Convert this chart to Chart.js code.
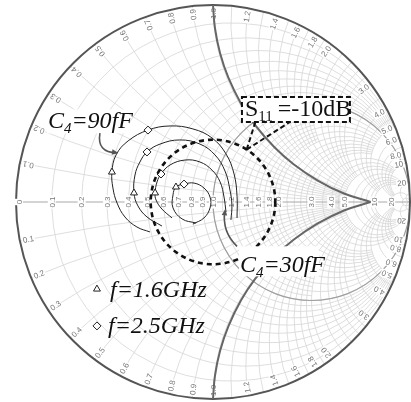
<!DOCTYPE html>
<html lang="en">
<head>
<meta charset="UTF-8">
<title>S11 of the input match for several C4</title>
<script src="https://cdn.jsdelivr.net/npm/chart.js"></script>
<style>
  html, body { margin: 0; padding: 0; background: #fff; }
  #wrap { width: 411px; height: 402px; }
</style>
</head>
<body>
<div id="wrap"><canvas id="smith" width="411" height="402"></canvas></div>
<script>
// S11 traces as reflection coefficient [re, im], low to high frequency
const trace90 = [[-0.320,-0.152],[-0.386,-0.127],[-0.447,-0.076],[-0.487,-0.005],[-0.508,0.071],
  [-0.513,0.152],[-0.492,0.239],[-0.431,0.310],[-0.330,0.365],[-0.218,0.386],[-0.102,0.371],
  [-0.005,0.325],[0.066,0.244],[0.107,0.142],[0.122,0.030],[0.122,-0.081]];
const trace70 = [[-0.259,-0.122],[-0.335,-0.076],[-0.381,-0.020],[-0.401,0.046],[-0.396,0.137],
  [-0.371,0.203],[-0.335,0.254],[-0.269,0.294],[-0.168,0.315],[-0.066,0.294],[0.010,0.239],
  [0.061,0.157],[0.086,0.061],[0.096,-0.015],[0.091,-0.091]];
const trace50 = [[-0.208,-0.081],[-0.259,-0.036],[-0.289,0.010],[-0.294,0.046],[-0.284,0.102],
  [-0.264,0.142],[-0.218,0.188],[-0.142,0.213],[-0.066,0.203],[-0.005,0.162],[0.036,0.102],
  [0.056,0.025],[0.066,-0.051]];
const trace30 = [[-0.086,-0.107],[-0.157,-0.086],[-0.203,-0.030],[-0.203,0.036],[-0.188,0.076],
  [-0.147,0.091],[-0.096,0.096],[-0.046,0.071],[-0.015,0.025],[-0.015,-0.030],[-0.046,-0.081],
  [-0.102,-0.112]];

// marker positions at 1.6 GHz and 2.5 GHz on each trace
const mark16 = [[-0.513,0.152],[-0.401,0.046],[-0.294,0.046],[-0.188,0.076]];
const mark25 = [[-0.330,0.365],[-0.335,0.254],[-0.264,0.142],[-0.147,0.091]];

// bounding arcs (dark gray)
const boundUpper = [[0,1.0],[0.010,0.882],[0.036,0.755],[0.078,0.631],[0.143,0.498],[0.214,0.390],
  [0.312,0.278],[0.409,0.192],[0.532,0.109],[0.665,0.043],[0.800,0]];
const boundLower = boundUpper.map(p => [p[0], -p[1]]);

// chart labels
const axisTicks = [0,0.1,0.2,0.3,0.4,0.5,0.6,0.7,0.8,0.9,1.0,1.2,1.4,1.6,1.8,2.0,3.0,4.0,5.0,10,20];
const rimTicks = [0.1,0.2,0.3,0.4,0.5,0.6,0.7,0.8,0.9,1.0,1.2,1.4,1.6,1.8,2.0,3.0,4.0,5.0,6.0,8.0,10,20];
const s11LimitDb = -10;

// grid: circles of constant r (clipped to |x| <= lim) and arcs of constant x (clipped to r <= lim)
const gridTiers = [
  { vals: [0.1,0.2,0.3,0.4,0.5,0.6,0.7,0.8,0.9,1.0], lim: 5 },
  { vals: [1.2,1.4,1.6,1.8,2.0], lim: 5 },
  { vals: [1.1,1.3,1.5,1.7,1.9], lim: 2 },
  { vals: [2.2,2.4,2.6,2.8,3.0], lim: 5 },
  { vals: [3.5,4.0,4.5,5.0], lim: 10 },
  { vals: [6,7,8,9,10], lim: 20 },
  { vals: [20], lim: 50 },
  { vals: [50], lim: 1e6 }
];

const toXY = arr => arr.map(p => ({ x: p[0], y: p[1] }));

function gam(r, x) {
  const d = (r + 1) * (r + 1) + x * x;
  return [(r * r + x * x - 1) / d, 2 * x / d];
}

function fmt(v) {
  if (v === 0) return '0';
  if (v >= 10) return String(v);
  return v.toFixed(1);
}

const smithGrid = {
  id: 'smithGrid',
  beforeDatasetsDraw(chart) {
    const ctx = chart.ctx;
    const X = chart.scales.x, Y = chart.scales.y;
    const cx = X.getPixelForValue(0), cy = Y.getPixelForValue(0);
    const R = X.getPixelForValue(1) - cx;

    ctx.save();
    ctx.beginPath();
    ctx.arc(cx, cy, R, 0, Math.PI * 2);
    ctx.clip();

    ctx.strokeStyle = '#d6d6d6';
    ctx.lineWidth = 0.8;
    gridTiers.forEach(t => {
      t.vals.forEach(v => {
        // constant resistance
        const c = v / (1 + v), rad = 1 / (1 + v);
        const p = gam(v, t.lim);
        const a = Math.atan2(p[1], p[0] - c);
        ctx.beginPath();
        ctx.arc(cx + c * R, cy, rad * R, -a, a, true);
        ctx.stroke();
        // constant reactance, both signs
        const p0 = gam(0, v), p1 = gam(t.lim, v);
        let a0 = Math.atan2(p0[1] - 1 / v, p0[0] - 1);
        let a1 = Math.atan2(p1[1] - 1 / v, p1[0] - 1);
        if (a1 < a0) a1 += Math.PI * 2;
        ctx.beginPath();
        ctx.arc(cx + R, cy - R / v, R / v, -a0, -a1, true);
        ctx.stroke();
        ctx.beginPath();
        ctx.arc(cx + R, cy + R / v, R / v, a0, a1, false);
        ctx.stroke();
      });
    });

    // r = 1 circle
    ctx.strokeStyle = '#a0a0a0';
    ctx.lineWidth = 1.2;
    ctx.beginPath();
    ctx.arc(cx + R / 2, cy, R / 2, 0, Math.PI * 2);
    ctx.stroke();

    // real axis
    ctx.strokeStyle = '#a8a8a8';
    ctx.lineWidth = 1;
    ctx.beginPath();
    ctx.moveTo(cx - R, cy);
    ctx.lineTo(cx + R, cy);
    ctx.stroke();
    ctx.restore();

    // outer rim
    ctx.save();
    ctx.strokeStyle = '#555';
    ctx.lineWidth = 2;
    ctx.beginPath();
    ctx.arc(cx, cy, R, 0, Math.PI * 2);
    ctx.stroke();

    ctx.font = '8px "Liberation Sans", Arial, sans-serif';
    ctx.textBaseline = 'middle';

    // labels along the real axis
    axisTicks.forEach(v => {
      const g = (v - 1) / (v + 1);
      const txt = fmt(v);
      const w = ctx.measureText(txt).width;
      ctx.save();
      ctx.translate(cx + g * R + (v === 0 ? 3 : 0), cy);
      ctx.rotate(-Math.PI / 2);
      ctx.fillStyle = '#fff';
      ctx.fillRect(-w / 2 - 1, -4, w + 2, 8);
      ctx.fillStyle = '#777';
      ctx.textAlign = 'center';
      ctx.fillText(txt, 0, 0.5);
      ctx.restore();
    });

    // reactance labels just inside the rim
    rimTicks.forEach(v => {
      [1, -1].forEach(s => {
        const p = gam(0, s * v);
        const phi = Math.atan2(p[1], p[0]);
        const txt = fmt(v);
        const w = ctx.measureText(txt).width;
        ctx.save();
        ctx.translate(cx + (R - 3) * Math.cos(phi), cy - (R - 3) * Math.sin(phi));
        if (s > 0) {
          ctx.rotate(-phi);
          ctx.fillStyle = '#fff';
          ctx.fillRect(-w - 1, -4, w + 2, 8);
          ctx.fillStyle = '#777';
          ctx.textAlign = 'right';
        } else {
          ctx.rotate(-phi + Math.PI);
          ctx.fillStyle = '#fff';
          ctx.fillRect(-1, -4, w + 2, 8);
          ctx.fillStyle = '#777';
          ctx.textAlign = 'left';
        }
        ctx.fillText(txt, 0, 0.5);
        ctx.restore();
      });
    });
    ctx.restore();
  }
};

function arrowHead(ctx, x, y, ang, size) {
  ctx.beginPath();
  ctx.moveTo(x, y);
  ctx.lineTo(x - size * Math.cos(ang - 0.4), y - size * Math.sin(ang - 0.4));
  ctx.lineTo(x - size * Math.cos(ang + 0.4), y - size * Math.sin(ang + 0.4));
  ctx.closePath();
  ctx.fill();
}

// text with a subscript; returns end x
function subText(ctx, parts, x, y, italic) {
  const st = italic ? 'italic ' : '';
  parts.forEach(p => {
    ctx.font = st + (p.sub ? '15px' : '24px') + ' "Liberation Serif", "Times New Roman", serif';
    ctx.fillText(p.t, x, y + (p.sub ? 5 : 0));
    x += ctx.measureText(p.t).width + (p.gap || 0);
  });
  return x;
}

const overlays = {
  id: 'overlays',
  afterDatasetsDraw(chart) {
    const ctx = chart.ctx;
    const X = chart.scales.x, Y = chart.scales.y;
    const px = v => X.getPixelForValue(v), py = v => Y.getPixelForValue(v);
    const cx = px(0), cy = py(0), R = px(1) - cx;

    // |S11| = -10 dB circle
    const rho = Math.pow(10, s11LimitDb / 20);
    ctx.save();
    ctx.strokeStyle = '#111';
    ctx.lineWidth = 2.6;
    ctx.setLineDash([5, 4]);
    ctx.beginPath();
    ctx.arc(cx, cy, rho * R, 0, Math.PI * 2);
    ctx.stroke();

    // callout to the S11 box
    const ang = 1.0;
    const sx = cx + rho * R * Math.cos(ang), sy = cy - rho * R * Math.sin(ang);
    const bx0 = px(0.147), bx1 = px(0.695), by0 = py(0.533), by1 = py(0.406);
    ctx.lineWidth = 2;
    ctx.setLineDash([5, 3]);
    ctx.beginPath();
    ctx.moveTo(sx, sy);
    ctx.lineTo(px(0.215), by1);
    ctx.moveTo(sx, sy);
    ctx.lineTo(px(0.390), by1);
    ctx.stroke();

    ctx.setLineDash([]);
    ctx.fillStyle = '#fff';
    ctx.fillRect(bx0, by0, bx1 - bx0, by1 - by0);
    ctx.setLineDash([5, 3]);
    ctx.strokeRect(bx0, by0, bx1 - bx0, by1 - by0);
    ctx.setLineDash([]);
    ctx.fillStyle = '#111';
    ctx.textBaseline = 'alphabetic';
    subText(ctx, [{ t: 'S' }, { t: '11', sub: true, gap: 5 }, { t: '=-10dB' }], bx0 + 3, by1 - 6, false);

    // C4 = 90 fF label and arrow
    ctx.fillStyle = '#fff';
    ctx.fillRect(px(-0.843), py(0.470), 82, 24);
    ctx.fillStyle = '#111';
    subText(ctx, [{ t: 'C' }, { t: '4', sub: true }, { t: '=90fF' }], px(-0.838), py(0.376), true);
    ctx.strokeStyle = '#555';
    ctx.fillStyle = '#555';
    ctx.lineWidth = 1.6;
    ctx.beginPath();
    ctx.moveTo(px(-0.574), py(0.350));
    ctx.quadraticCurveTo(px(-0.590), py(0.250), px(-0.490), py(0.250));
    ctx.stroke();
    arrowHead(ctx, px(-0.480), py(0.249), 0.15, 7);

    // C4 = 30 fF label and arrow
    ctx.fillStyle = '#fff';
    ctx.fillRect(px(0.132), py(-0.225), 80, 30);
    ctx.fillStyle = '#111';
    subText(ctx, [{ t: 'C' }, { t: '4', sub: true }, { t: '=30fF' }], px(0.137), py(-0.355), true);
    ctx.strokeStyle = '#555';
    ctx.fillStyle = '#555';
    ctx.beginPath();
    ctx.moveTo(px(0.122), py(-0.225));
    ctx.quadraticCurveTo(px(0.045), py(-0.150), px(0.060), py(-0.050));
    ctx.stroke();
    arrowHead(ctx, px(0.062), py(-0.035), -1.45, 7);

    // marker legend
    ctx.fillStyle = '#111';
    subText(ctx, [{ t: 'f=1.6GHz' }], px(-0.523), py(-0.482), true);
    subText(ctx, [{ t: 'f=2.5GHz' }], px(-0.533), py(-0.665), true);
    ctx.restore();
  }
};

const markerStyle = {
  showLine: false, pointRadius: 4, pointBorderWidth: 1,
  pointBackgroundColor: '#fff', pointBorderColor: '#222', order: 0
};
const traceStyle = {
  showLine: true, borderColor: '#222', borderWidth: 1, pointRadius: 0, tension: 0.4, order: 1
};
const boundStyle = {
  showLine: true, borderColor: '#666', borderWidth: 2, pointRadius: 0, tension: 0.4, order: 2
};

new Chart(document.getElementById('smith'), {
  type: 'scatter',
  data: {
    datasets: [
      { label: 'upper bound', data: toXY(boundUpper), ...boundStyle },
      { label: 'lower bound', data: toXY(boundLower), ...boundStyle },
      { label: 'C4 = 90 fF', data: toXY(trace90), ...traceStyle },
      { label: 'C4 = 70 fF', data: toXY(trace70), ...traceStyle },
      { label: 'C4 = 50 fF', data: toXY(trace50), ...traceStyle },
      { label: 'C4 = 30 fF', data: toXY(trace30), ...traceStyle },
      { label: 'f = 1.6 GHz', data: toXY(mark16), pointStyle: 'triangle', ...markerStyle },
      { label: 'f = 2.5 GHz', data: toXY(mark25), pointStyle: 'rectRot', ...markerStyle },
      // legend symbols
      { label: 'legend', data: [{ x: -0.589, y: -0.442 }], pointStyle: 'triangle', ...markerStyle },
      { label: 'legend', data: [{ x: -0.589, y: -0.629 }], pointStyle: 'rectRot', ...markerStyle }
    ]
  },
  options: {
    responsive: false,
    animation: false,
    layout: { padding: 0, autoPadding: false },
    scales: {
      x: { type: 'linear', display: false, min: -213 / 197, max: 198 / 197 },
      y: { type: 'linear', display: false, min: -200 / 197, max: 202 / 197 }
    },
    plugins: { legend: { display: false }, tooltip: { enabled: false } }
  },
  plugins: [smithGrid, overlays]
});
</script>
</body>
</html>
